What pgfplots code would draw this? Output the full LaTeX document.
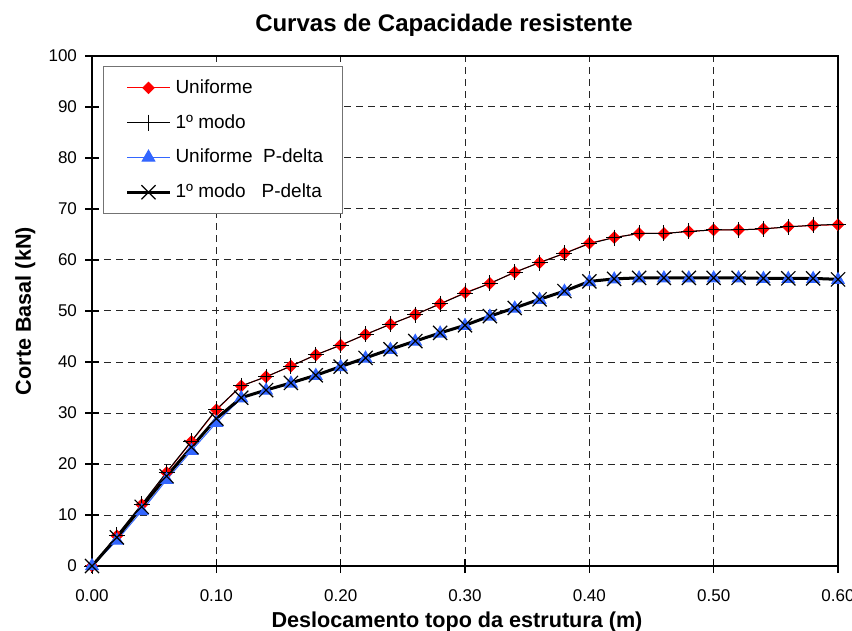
\documentclass[border=0pt]{standalone}
\usepackage{pgfplots}
\pgfplotsset{compat=1.18}
\usepackage{fontspec}
\setmainfont{Liberation Sans}
\definecolor{excelblue}{RGB}{51,102,255}

\begin{document}
\begin{tikzpicture}
\begin{axis}[
  name=ax,
  scale only axis,
  width=373pt, height=255pt,
  xmin=0, xmax=0.6, ymin=0, ymax=100,
  xtick={0,0.1,...,0.6}, ytick={0,10,...,100},
  xtick pos=bottom, ytick pos=left,
  tick align=center, major tick length=7pt,
  tick style={black, line width=0.75pt},
  axis line style={black, line width=0.75pt},
  grid=major,
  major grid style={black!85, line width=0.5pt, dash pattern=on 3.5pt off 2.5pt},
  /pgf/number format/assume math mode=true,
  xticklabel style={/pgf/number format/fixed, /pgf/number format/fixed zerofill,
    /pgf/number format/precision=2, yshift=-5pt},
  ticklabel style={font=\fontsize{8.5}{10}\selectfont},
  yticklabel style={xshift=-0.5pt},
  title={Curvas de Capacidade resistente},
  title style={font=\fontsize{12}{14}\selectfont\bfseries, anchor=base, at={(0.5,1)}, yshift=6pt, xshift=-10.5pt},
  xlabel={Deslocamento topo da estrutura (m)},
  xlabel style={font=\fontsize{10.8}{12}\selectfont\bfseries, anchor=base, at={(0.5,0)}, yshift=-30.5pt, xshift=-4pt},
  ylabel={Corte Basal (kN)},
  ylabel style={font=\fontsize{10.8}{12}\selectfont\bfseries, anchor=base, at={(axis description cs:-0.0818,0.5)}},
  legend style={at={(0,1)}, anchor=north west, xshift=5.5pt, yshift=-5pt,
    draw=black!55, line width=0.5pt, font=\fontsize{9.5}{11}\selectfont,
    inner xsep=7.5pt, inner ysep=4.5pt, row sep=5pt},
  legend cell align=left,
  legend image code/.code={\path (0pt,0pt);
    \draw[mark repeat=2,mark phase=2,#1] plot coordinates {(3.5pt,0pt) (14.25pt,0pt) (25pt,0pt)};},
]
% Uniforme
\addplot[red, line width=0.5pt, mark=square*, mark size=2pt,
  mark options={fill=red, draw=red, rotate=45}] coordinates {
(0,0) (0.02,5.9) (0.04,12.0) (0.06,18.3) (0.08,24.4) (0.10,30.6)
(0.12,35.3) (0.14,37.1) (0.16,39.2) (0.18,41.4) (0.20,43.3) (0.22,45.4)
(0.24,47.4) (0.26,49.3) (0.28,51.4) (0.30,53.6) (0.32,55.4) (0.34,57.6)
(0.36,59.5) (0.38,61.3) (0.40,63.3) (0.42,64.4) (0.44,65.2) (0.46,65.2)
(0.48,65.6) (0.50,65.9) (0.52,65.9) (0.54,66.1) (0.56,66.5) (0.58,66.8) (0.60,66.9)};
% 1o modo
\addplot[black, line width=0.5pt, mark=+, mark size=4pt] coordinates {
(0,0) (0.02,6.0) (0.04,12.1) (0.06,18.4) (0.08,24.5) (0.10,30.7)
(0.12,35.3) (0.14,37.1) (0.16,39.2) (0.18,41.4) (0.20,43.3) (0.22,45.4)
(0.24,47.4) (0.26,49.3) (0.28,51.4) (0.30,53.5) (0.32,55.4) (0.34,57.6)
(0.36,59.5) (0.38,61.3) (0.40,63.2) (0.42,64.4) (0.44,65.2) (0.46,65.2)
(0.48,65.6) (0.50,65.9) (0.52,65.9) (0.54,66.1) (0.56,66.5) (0.58,66.8) (0.60,67.0)};
% Uniforme P-delta
\addplot[excelblue, line width=0.5pt, mark=triangle*, mark size=3.6pt,
  mark options={fill=excelblue, draw=excelblue}] coordinates {
(0,0) (0.02,5.0) (0.04,10.8) (0.06,16.9) (0.08,22.6) (0.10,28.1)
(0.12,32.9) (0.14,34.4) (0.16,35.8) (0.18,37.3) (0.20,39.0) (0.22,40.7)
(0.24,42.4) (0.26,44.0) (0.28,45.6) (0.30,47.1) (0.32,48.9) (0.34,50.5)
(0.36,52.2) (0.38,53.8) (0.40,55.7) (0.42,56.2) (0.44,56.4) (0.46,56.4)
(0.48,56.4) (0.50,56.4) (0.52,56.4) (0.54,56.3) (0.56,56.3) (0.58,56.3) (0.60,56.1)};
% 1o modo P-delta
\addplot[black, line width=1.5pt, mark=x, mark size=5pt,
  mark options={line width=0.6pt}] coordinates {
(0,0) (0.02,5.6) (0.04,11.6) (0.06,17.6) (0.08,23.3) (0.10,28.9)
(0.12,33.0) (0.14,34.5) (0.16,35.9) (0.18,37.4) (0.20,39.1) (0.22,40.8)
(0.24,42.5) (0.26,44.1) (0.28,45.7) (0.30,47.2) (0.32,49.0) (0.34,50.6)
(0.36,52.3) (0.38,53.9) (0.40,55.8) (0.42,56.3) (0.44,56.5) (0.46,56.5)
(0.48,56.5) (0.50,56.5) (0.52,56.5) (0.54,56.4) (0.56,56.4) (0.58,56.4) (0.60,56.2)};
\legend{Uniforme, 1º modo, Uniforme\ \ P-delta, 1º modo\ \ \ P-delta}
\end{axis}
\pgfresetboundingbox
\path ([shift={(-46pt,-32pt)}]ax.south west) rectangle ([shift={(7pt,28pt)}]ax.north east);
\end{tikzpicture}
\end{document}
